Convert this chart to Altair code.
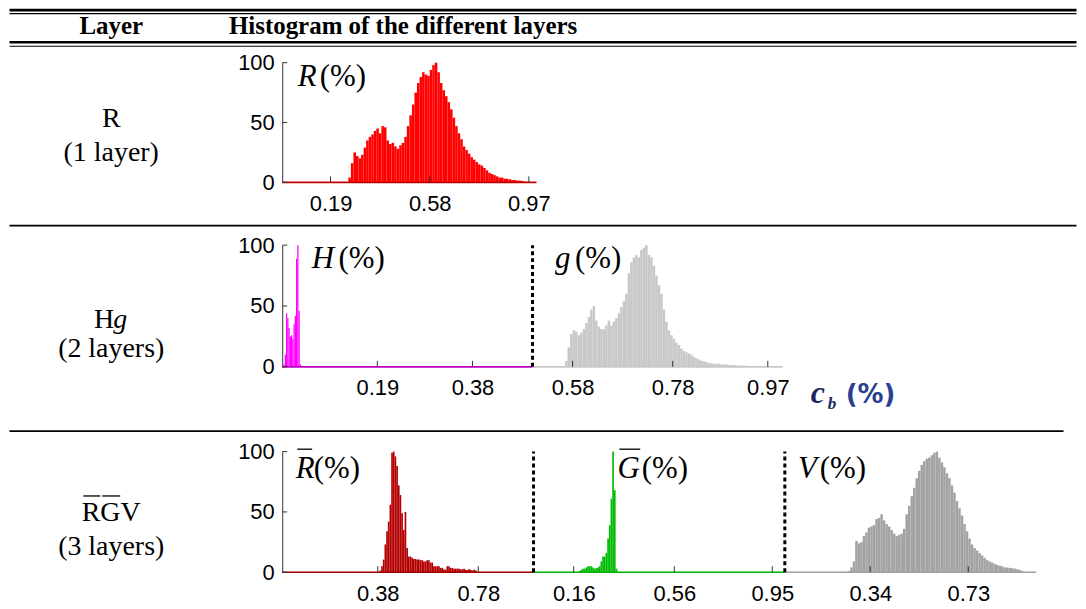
import altair as alt
import numpy as np
import pandas as pd

SANS = "Liberation Sans"
SERIF = "Liberation Serif"

# ---------------- data ----------------
# Row 1: R layer, bins of 0.01 starting at 0.26
R_start, R_step = 0.26, 0.01
R_vals = [4, 16, 25, 22, 20, 23, 29, 35, 38, 40, 43, 45, 41, 47, 46, 35, 32, 33, 30, 28,
          31, 33, 38, 47, 56, 65, 75, 83, 88, 92, 90, 89, 94, 98, 100, 92, 83, 77, 72, 67,
          61, 54, 47, 41, 36, 30, 27, 24, 21, 19, 17, 15, 14, 12, 10, 8, 7, 6, 5, 4,
          4, 3, 3, 2.5, 2, 2, 1.5, 1.5, 1, 0.5]

# Row 2: H layer (narrow spike) and g layer
H_start, H_step = 0.005, 0.005
H_vals = [2, 10, 44, 40, 32, 25, 26, 23, 35, 42, 89, 100, 46, 2]
g_start, g_step = 0.13, 0.01
g_vals = [5, 16, 27, 30, 29, 26, 28, 31, 36, 41, 47, 50, 38, 33, 31, 31, 34, 38, 34, 37,
          40, 44, 49, 54, 60, 77, 86, 90, 92, 90, 96, 98, 100, 92, 90, 83, 75, 67, 60, 47,
          37, 30, 26, 23, 20, 18, 15, 13, 12, 11, 10, 8, 7, 6, 5, 4.5, 4, 3, 3, 2.5,
          2.5, 2.5, 2, 2, 2, 1.5, 1.5, 1.5, 1, 1, 1, 1, 1, 0.8, 0.6, 0.5, 0.5]

# Row 3: R-bar, G-bar and V layers
Rb_start, Rb_step = 0.387, 1 / 150
Rb_vals = [1.4, 5, 10.5, 23, 34, 42, 56, 99, 100, 96, 88, 72, 64, 49, 35, 50, 20, 13, 13, 12,
           11, 11, 10.5, 10.5, 10, 10, 9, 9, 10, 10, 8, 8, 5, 5, 5, 5, 3.6, 3.6, 2.2, 2.2,
           5, 5, 3.6, 3.6, 3, 3, 3, 3, 2.5, 2.5, 3, 2, 2, 2.5, 2, 1.5, 2, 1.5]
Gb_start, Gb_step = 0.18, 1 / 150
Gb_vals = [1, 2, 3, 3, 4, 5, 5, 5, 4, 3, 3.5, 4, 5, 9, 13, 13, 16, 28, 39, 61, 100, 68, 3]
V_start, V_step = 0.25, 0.01
V_vals = [1, 4, 9, 26, 24, 25, 30, 33, 37, 38, 39, 44, 45, 48, 43, 40, 38, 35, 32, 30,
          31, 32, 36, 48, 55, 63, 70, 78, 84, 89, 92, 94, 95, 97, 99, 100, 95, 91, 87, 82,
          78, 72, 66, 59, 53, 47, 40, 34, 28, 23, 20, 18, 16, 14, 12, 10, 9, 8, 7, 6,
          5.5, 5, 4, 4, 3.6, 3.3, 3, 2.5, 2, 1]

y_ticks = [0, 50, 100]
row1_ticks = [0.19, 0.58, 0.97]
row2_ticks = [0.19, 0.38, 0.58, 0.78, 0.97]
row3_ticks = [0.38, 0.78, 1.16, 1.56, 1.95, 2.34, 2.73]

row_names = ["R", "Hg", "RGV"]
row_sub = ["(1 layer)", "(2 layers)", "(3 layers)"]

# layout constants (pixels, relative to each histogram's plot origin)
LEFT = -273.5          # left edge of the table
RIGHT = 796.5          # right edge of the table
LABX = -171.5          # centre of the "Layer" column
LFS = 28               # font size of the layer column


# ---------------- helpers ----------------
def bins(name, start, step, vals, seg, segw):
    x0 = start + step * np.arange(len(vals))
    return pd.DataFrame({"series": name,
                         "x0": (seg + x0) * segw,
                         "x1": (seg + x0 + step) * segw,
                         "v": vals})


def text(t, x, y, size, style="normal", weight="normal", font=SERIF, align="left", color="black"):
    return alt.Chart(pd.DataFrame({"t": [t]})).mark_text(
        font=font, fontSize=size, fontStyle=style, fontWeight=weight, align=align,
        baseline="alphabetic", color=color
    ).encode(text="t:N", x=alt.value(x), y=alt.value(y))


def hline(x1, x2, y, w=1.5, color="black"):
    return alt.Chart(pd.DataFrame({"a": [0]})).mark_rule(strokeWidth=w, color=color).encode(
        x=alt.value(x1), x2=alt.value(x2), y=alt.value(y))


def spacer(h):
    return alt.Chart(pd.DataFrame({"a": [0]})).mark_point(opacity=0).encode(
        x=alt.value(0), y=alt.value(0)).properties(width=10, height=h)


def hist_panel(width, height, domain, hist_df, seg_df, ticks, colors, boundaries, extra,
               label_expr=None, fmt=".2f"):
    xs = alt.Scale(domain=domain, nice=False, zero=False)
    ys = alt.Scale(domain=[0, 100], nice=False)
    xax = dict(values=ticks, domain=False, ticks=False, tickSize=0, grid=False,
               labelFont=SANS, labelFontSize=22, labelColor="black", labelPadding=11,
               title=None, labelFlush=False, labelOverlap=False, format=fmt)
    if label_expr:
        xax["labelExpr"] = label_expr
    xaxis = alt.Axis(**xax)
    yaxis = alt.Axis(values=y_ticks, domain=True, domainColor="#333333", domainWidth=1,
                     ticks=False, tickSize=0, grid=False, labelFont=SANS, labelFontSize=22,
                     labelColor="black", labelPadding=8, title=None)
    cscale = alt.Scale(domain=list(colors.keys()), range=list(colors.values()))
    bars = alt.Chart(hist_df).mark_rect().encode(
        x=alt.X("x0:Q", scale=xs, axis=xaxis), x2="x1:Q",
        y=alt.Y("v:Q", scale=ys, axis=yaxis), y2=alt.datum(0),
        color=alt.Color("series:N", scale=cscale, legend=None))
    base = alt.Chart(seg_df).mark_rule(strokeWidth=1.6).encode(
        x=alt.X("a:Q", scale=xs, axis=xaxis), x2="b:Q",
        y=alt.Y("z:Q", scale=ys, axis=yaxis),
        stroke=alt.Stroke("series:N", scale=alt.Scale(domain=list(seg_df["series"]),
                                                      range=list(seg_df["line"])),
                          legend=None))
    ytk = alt.Chart(pd.DataFrame({"t": y_ticks})).mark_rule(color="#333333").encode(
        y=alt.Y("t:Q", scale=ys, axis=yaxis), x=alt.value(0), x2=alt.value(5))
    xtk = alt.Chart(pd.DataFrame({"t": ticks})).mark_rule(color="#333333").encode(
        x=alt.X("t:Q", scale=xs, axis=xaxis), y=alt.value(height), y2=alt.value(height - 6))
    layers = [bars, base, ytk, xtk]
    if boundaries:
        dash = alt.Chart(pd.DataFrame({"b": boundaries, "lo": 0, "hi": 100})).mark_rule(
            strokeDash=[4, 3], strokeWidth=3, color="black").encode(
            x=alt.X("b:Q", scale=xs, axis=xaxis),
            y=alt.Y("lo:Q", scale=ys, axis=yaxis), y2="hi:Q")
        layers.append(dash)
    layers += extra
    return alt.layer(*layers).properties(width=width, height=height)


# ---------------- header ----------------
header = alt.layer(
    hline(LEFT, RIGHT, 1.3, 2.6),
    hline(LEFT, RIGHT, 4.8, 1.2),
    text("Layer", LABX, 25, 25, weight="bold", align="center"),
    text("Histogram of the different layers", -53.5, 25, 25, weight="bold"),
    hline(LEFT, RIGHT, 33.5, 2.6),
    hline(LEFT, RIGHT, 37.5, 1.2),
).properties(width=10, height=53.7)

# ---------------- row 1 ----------------
h1 = bins("R", R_start, R_step, R_vals, 0, 1)
s1 = pd.DataFrame({"series": ["R"], "a": [0.0], "b": [1.0], "z": [0], "line": ["#c00000"]})
row1 = hist_panel(255, 120, [0, 1], h1, s1, row1_ticks, {"R": "#ff0000"}, [], [
    text("R", 15.5, 23.3, 31, style="italic"),
    text("(%)", 37.5, 23.3, 31),
    text(row_names[0], LABX, 64.5, LFS, align="center"),
    text(row_sub[0], LABX, 99, LFS, align="center"),
    hline(LEFT, RIGHT, 163.3, 1.8),
])

# ---------------- row 2 ----------------
h2 = pd.concat([bins("H", H_start, H_step, H_vals, 0, 0.5),
                bins("g", g_start, g_step, g_vals, 1, 0.5)])
s2 = pd.DataFrame({"series": ["H", "g"], "a": [0.0, 0.5], "b": [0.5, 1.0], "z": [0, 0],
                   "line": ["#c000c0", "#c8c8c8"]})
row2 = hist_panel(502, 122, [0, 1], h2, s2, row2_ticks,
                  {"H": "#ff00ff", "g": "#c8c8c8"}, [0.5], [
    text("H", 29.5, 22.7, 31, style="italic"),
    text("(%)", 56.5, 22.7, 31),
    text("g", 273.5, 22.7, 31, style="italic"),
    text("(%)", 293.5, 22.7, 31),
    text("c", 530, 158, 32, style="italic", weight="bold", color="#1c2560"),
    text("b", 547, 164, 17, style="italic", weight="bold", color="#1c2560"),
    text("(%)", 565, 158, 26, font="DejaVu Sans", weight="bold", color="#2a3f8f"),
    text(row_names[1][0], LABX + 3, 83, LFS, align="right"),
    text(row_names[1][1], LABX + 2, 83, LFS, style="italic", align="left"),
    text(row_sub[1], LABX, 112, LFS, align="center"),
    hline(LEFT, 783.5, 186.5, 1.9),
])

# ---------------- row 3 ----------------
h3 = pd.concat([bins("Rb", Rb_start, Rb_step, Rb_vals, 0, 1),
                bins("Gb", Gb_start, Gb_step, Gb_vals, 1, 1),
                bins("V", V_start, V_step, V_vals, 2, 1)])
s3 = pd.DataFrame({"series": ["Rb", "Gb", "V"], "a": [0.0, 1.0, 2.0], "b": [1.0, 2.0, 3.0],
                   "z": [0, 0, 0], "line": ["#a00000", "#00b000", "#a0a0a0"]})
row3 = hist_panel(756, 121, [0, 3], h3, s3, row3_ticks,
                  {"Rb": "#b40000", "Gb": "#00bb00", "V": "#a3a3a3"}, [1, 2], [
    text("R", 13.5, 26, 31, style="italic"),
    hline(15, 30, -2.4, 1.3),
    text("(%)", 31.5, 26, 31),
    text("G", 336.2, 26, 31, style="italic"),
    hline(338, 359, -2.4, 1.3),
    text("(%)", 360.5, 26, 31),
    text("V", 517.2, 26, 31, style="italic"),
    text("(%)", 539.1, 26, 31),
    text(row_names[2], LABX, 70, LFS, align="center"),
    hline(LABX - 28, LABX - 11, 44.5, 1.3),
    hline(LABX - 9, LABX + 9, 44.5, 1.3),
    text(row_sub[2], LABX, 103.5, LFS, align="center"),
], label_expr="format(datum.value - floor(datum.value), '.2f')")

chart = alt.vconcat(header, row1, spacer(62.3), row2, spacer(84.7), row3,
                    spacing=0, bounds="flush",
                    padding={"left": 0, "top": 0, "right": 0, "bottom": 0}
                    ).resolve_scale(color="independent", stroke="independent"
                    ).configure(background="white",
                                view=alt.ViewConfig(stroke="transparent", strokeWidth=0))

chart.save("out.html", embed_options={"renderer": "svg", "actions": False})
